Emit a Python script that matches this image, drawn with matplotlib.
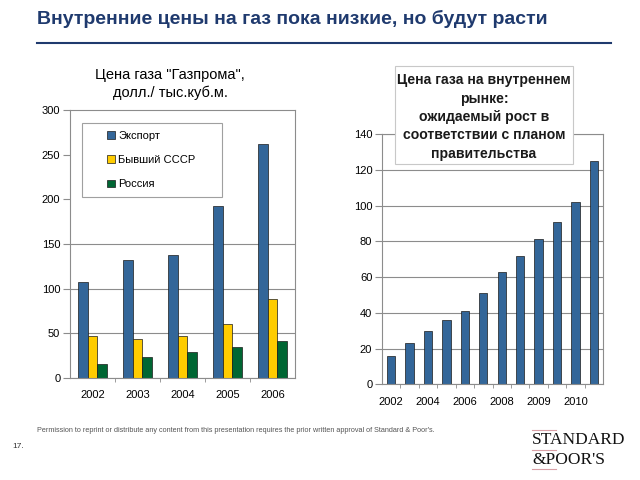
import matplotlib
matplotlib.use("Agg")
import matplotlib.pyplot as plt
import numpy as np
from matplotlib.lines import Line2D
from matplotlib.patches import Rectangle

plt.rcParams['font.family'] = ['Liberation Sans', 'DejaVu Sans']

# left chart: Gazprom prices, USD per thousand cubic metres
years_left = ["2002", "2003", "2004", "2005", "2006"]
export = [107, 132, 138, 192, 262]
ex_ussr = [47, 44, 47, 61, 88]
russia = [16, 23, 29, 35, 41]
series_names = ["Экспорт", "Бывший СССР", "Россия"]
left_yticks = [0, 50, 100, 150, 200, 250, 300]

# right chart: domestic gas price
right_values = [16, 23, 30, 36, 41, 51, 63, 72, 81, 91, 102, 125]
right_labels = ["2002", "", "2004", "", "2006", "", "2008", "", "2009", "", "2010", ""]
right_yticks = [0, 20, 40, 60, 80, 100, 120, 140]

BLUE = "#336699"
YELLOW = "#FFCC00"
GREEN = "#006633"
NAVY = "#1F3A6E"
GRID = "#8c8c8c"


def px(x, y):
    return x / 640, 1 - y / 480


def style_axes(ax, n):
    for s in ax.spines.values():
        s.set_color(GRID)
        s.set_linewidth(0.8)
    ax.set_xlim(-0.5, n - 0.5)
    ax.set_xticks(np.arange(n - 1) + 0.5, minor=True)
    ax.tick_params(axis="x", which="major", length=0, pad=9, labelsize=8)
    ax.tick_params(axis="x", which="minor", length=3, color=GRID)
    ax.tick_params(axis="y", length=5, color=GRID, labelsize=8, pad=2)
    ax.yaxis.grid(True, color=GRID, linewidth=0.8)
    ax.set_axisbelow(True)


def main() -> None:
    fig = plt.figure(figsize=(6.4, 4.8), dpi=100)

    # title
    fig.text(*px(37, 19), "Внутренние цены на газ пока низкие, но будут расти",
             fontsize=14, fontweight="bold", color=NAVY, va="center")
    fig.add_artist(Line2D([37 / 640, 611 / 640], [1 - 42.5 / 480] * 2,
                          color=NAVY, lw=1.5))

    # left chart
    ax1 = fig.add_axes([70 / 640, 1 - 378 / 480, 225 / 640, 268 / 480])
    x = np.arange(len(years_left))
    w = 0.22
    b1 = ax1.bar(x - w, export, w, color=BLUE, edgecolor="#1a1a1a", linewidth=0.5)
    b2 = ax1.bar(x, ex_ussr, w, color=YELLOW, edgecolor="#1a1a1a", linewidth=0.5)
    b3 = ax1.bar(x + w, russia, w, color=GREEN, edgecolor="#1a1a1a", linewidth=0.5)
    style_axes(ax1, len(years_left))
    ax1.set_ylim(0, 300)
    ax1.set_yticks(left_yticks)
    ax1.set_xticks(x)
    ax1.set_xticklabels(years_left)
    # upper gridlines are hidden behind the legend area in the original
    for gl, val in zip(ax1.get_ygridlines(), left_yticks):
        gl.set_visible(val <= 150)

    fig.text(*px(170, 84), "Цена газа \"Газпрома\",\nдолл./ тыс.куб.м.",
             fontsize=10.5, ha="center", va="center", linespacing=1.3)

    fig.add_artist(Rectangle(px(82, 197), 140 / 640, 74 / 480, transform=fig.transFigure,
                             facecolor="white", edgecolor="#a0a0a0", lw=0.8, zorder=2))
    leg = fig.legend([b1, b2, b3], series_names, loc="center left",
                     bbox_to_anchor=px(97, 160), frameon=False, fontsize=8,
                     handlelength=0.7, handleheight=0.7, handletextpad=0.3,
                     labelspacing=1.3)
    leg.set_zorder(3)

    # right chart
    ax2 = fig.add_axes([382 / 640, 1 - 384.3 / 480, 221 / 640, 250.3 / 480])
    xr = np.arange(len(right_values))
    ax2.bar(xr, right_values, 0.45, color=BLUE, edgecolor="#1a1a1a", linewidth=0.5)
    style_axes(ax2, len(right_values))
    ax2.set_ylim(0, 140)
    ax2.set_yticks(right_yticks)
    ax2.set_xticks(xr)
    ax2.set_xticklabels(right_labels)

    fig.add_artist(Rectangle(px(395, 164), 178 / 640, 98 / 480, transform=fig.transFigure,
                             facecolor="white", edgecolor="#c8c8c8", lw=0.8, zorder=2))
    fig.text(*px(484, 117),
             "Цена газа на внутреннем\nрынке:\nожидаемый рост в\nсоответствии с планом\nправительства",
             fontsize=10.1, fontweight="bold", ha="center", va="center",
             linespacing=1.4, color="#1a1a1a", zorder=3)

    # footer
    fig.text(*px(37, 431),
             "Permission to reprint or distribute any content from this presentation "
             "requires the prior written approval of Standard & Poor's.",
             fontsize=5.2, color="#555555", va="center")
    fig.text(*px(12, 446), "17.", fontsize=6, color="#333333", va="center")

    fig.text(*px(532, 440), "STANDARD", family="Liberation Serif", fontsize=12.5,
             color="#111111", va="center")
    fig.text(*px(532, 460), "&POOR'S", family="Liberation Serif", fontsize=12.5,
             color="#111111", va="center")
    for yy in (430, 450, 469):
        fig.add_artist(Line2D([532 / 640, 556 / 640], [1 - yy / 480] * 2,
                              color="#d9a0a6", lw=0.8))

    fig.savefig("out.png", dpi=100)


if __name__ == '__main__':
    main()
